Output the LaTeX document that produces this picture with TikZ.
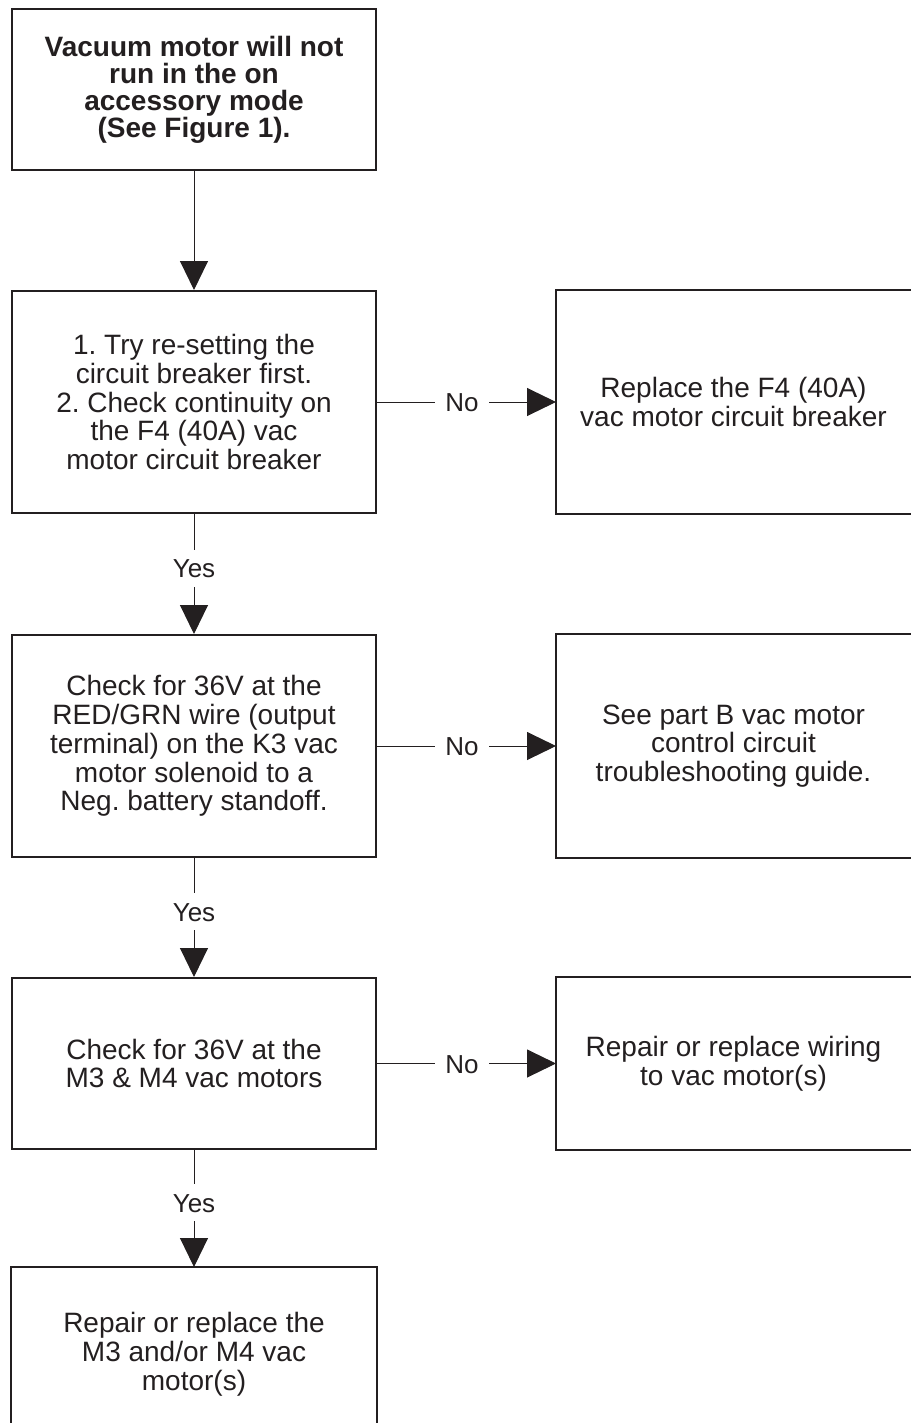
\documentclass[tikz,border=0pt]{standalone}
\usepackage{fontspec}
\setmainfont{Liberation Sans}
\usetikzlibrary{arrows.meta}
\definecolor{ink}{HTML}{231F20}
\frenchspacing
\begin{document}
\begin{tikzpicture}[x=1pt,y=-1pt,
  box/.style={draw=ink, line width=2pt, inner sep=0pt, align=center, text=ink,
    font=\frenchspacing\fontsize{28}{28.8}\selectfont},
  openbox/.style={box, draw=none},
  border/.style={draw=ink, line width=2pt},
  conn/.style={draw=ink, line width=1pt, -{Triangle[width=28pt,length=29pt]}},
  lbl/.style={fill=white, text=ink, font=\fontsize{26}{26}\selectfont,
    inner xsep=10pt, inner ysep=9pt, text height=19pt, text depth=0pt}]
\useasboundingbox (0,0) rectangle (910,1423);
\coordinate (pgbot) at (0,1423);

% left column
\node[box, minimum width=364pt, minimum height=161pt,
  font=\frenchspacing\fontsize{28}{27}\selectfont\bfseries] (b1) at (194,89.5)
  {Vacuum motor will not\\run in the on\\accessory mode\\(See Figure 1).};
\node[box, minimum width=364pt, minimum height=222pt] (b2) at (194,402)
  {1. Try re-setting the\\circuit breaker first.\\2. Check continuity on\\the F4 (40A) vac\\motor circuit breaker};
\node[box, minimum width=364pt, minimum height=222pt] (b3) at (194,746)
  {Check for 36V at the\\RED/GRN wire (output\\terminal) on the K3 vac\\motor solenoid to a\\Neg. battery standoff.};
\node[box, minimum width=364pt, minimum height=171pt] (b4) at (194,1063.5)
  {Check for 36V at the\\M3 \& M4 vac motors};
\node[openbox, minimum width=364pt, minimum height=172pt] (b5) at (194,1354)
  {Repair or replace the\\M3 and/or M4 vac\\motor(s)};
\draw[border] (b5.west |- pgbot) -- (b5.north west) -- (b5.north east) -- (b5.east |- pgbot);

% right column
\node[openbox, minimum width=353pt, minimum height=222pt] (r2) at (733.5,402)
  {Replace the F4 (40A)\\vac motor circuit breaker};
\node[openbox, minimum width=353pt, minimum height=222pt] (r3) at (733.5,746)
  {See part B vac motor\\control circuit\\troubleshooting guide.};
\node[openbox, minimum width=353pt, minimum height=171pt] (r4) at (733.5,1063.5)
  {Repair or replace wiring\\to vac motor(s)};
\draw[border] (r2.north east) -- (r2.north west) -- (r2.south west) -- (r2.south east);
\draw[border] (r3.north east) -- (r3.north west) -- (r3.south west) -- (r3.south east);
\draw[border] (r4.north east) -- (r4.north west) -- (r4.south west) -- (r4.south east);

% connectors
\draw[conn] (b1.south) -- (b2.north);
\draw[conn] (b2.south) -- node[lbl, pos=0.45] {Yes} (b3.north);
\draw[conn] (b3.south) -- node[lbl, pos=0.45] {Yes} (b4.north);
\draw[conn] (b4.south) -- node[lbl, pos=0.45] {Yes} (b5.north);
\draw[conn] (b2.east) -- node[lbl, pos=0.475] {No} (r2.west);
\draw[conn] (b3.east) -- node[lbl, pos=0.475] {No} (r3.west);
\draw[conn] (b4.east) -- node[lbl, pos=0.475] {No} (r4.west);
\end{tikzpicture}
\end{document}
